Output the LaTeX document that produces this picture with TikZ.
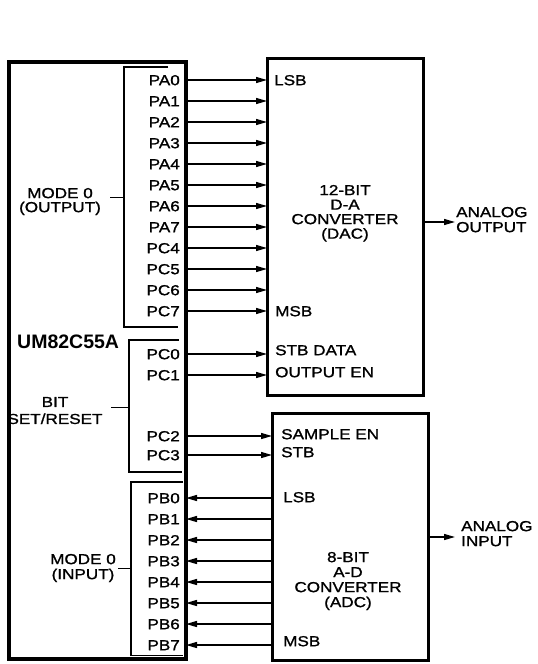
\documentclass[tikz,border=0pt]{standalone}
\usepackage{fontspec}
\setmainfont{Liberation Sans}[FakeStretch=1.18, FakeBold=1.2]
\newfontfamily\chipfont{Liberation Sans}
\usetikzlibrary{arrows.meta}
\begin{document}
\begin{tikzpicture}[x=1pt,y=-1pt,
  box/.style={draw, rectangle, line width=3.5pt, inner sep=0pt, outer sep=0pt},
  pinl/.style={font=\fontsize{14.5}{14.5}\selectfont, inner sep=0pt, text height=10.4pt, text depth=0pt, anchor=east},
  pinr/.style={pinl, anchor=west},
  sig/.style={line width=1.4pt, -{Triangle[length=11pt,width=6pt]}},
  brk/.style={line width=1.3pt},
  lead/.style={line width=0.9pt},
  lbl/.style={inner sep=0pt, anchor=north, align=center},
]
\useasboundingbox (0,0) rectangle (538,664);

% boxes
\node[box, minimum width=177pt, minimum height=597pt] (ic) at (97.5,360.5) {};
\node[box, line width=3pt, minimum width=156pt, minimum height=337pt] (dac) at (345,226.5) {};
\node[box, line width=3pt, minimum width=156pt, minimum height=247pt] (adc) at (350,536.5) {};

% port brackets
\draw[brk] (168,67) -- (124,67) -- (124,327) -- (178,327);
\draw[brk] (179,340) -- (129,340) -- (129,472) -- (182,472);
\draw[brk] (183,482) -- (131,482) -- (131,655.5) -- (183,655.5);

% chip name
\node[font=\chipfont\bfseries\fontsize{19.5}{19.5}\selectfont, inner sep=0pt, text height=14pt, text depth=0pt, anchor=west] (chip) at (17,341) {UM82C55A};

% output pins to DAC
\foreach \n/\y in {PA0/80,PA1/101,PA2/122,PA3/143,PA4/164,PA5/185,PA6/206,PA7/227,PC4/248,PC5/269,PC6/290,PC7/311,PC0/354,PC1/375}{
  \node[pinl] (\n) at (180,\y) {\n};
  \draw[sig] (ic.east |- \n.east) -- (dac.west |- \n.east);
}
% control pins to ADC
\foreach \n/\y in {PC2/436,PC3/455}{
  \node[pinl] (\n) at (180,\y) {\n};
  \draw[sig] (ic.east |- \n.east) -- (adc.west |- \n.east);
}
% input pins from ADC
\foreach \n/\y in {PB0/498,PB1/519,PB2/540,PB3/561,PB4/582,PB5/603,PB6/624,PB7/645}{
  \node[pinl] (\n) at (180,\y) {\n};
  \draw[sig] (adc.west |- \n.east) -- (ic.east |- \n.east);
}

% DAC labels
\node[pinr] (dlsb) at (274,80) {LSB};
\node[pinr] (dmsb) at (275,311) {MSB};
\node[pinr] (dstb) at (275,350) {STB DATA};
\node[pinr] (doen) at (275,372) {OUTPUT EN};
\node[lbl, font=\fontsize{14.5}{14.5}\selectfont] (dact) at (345,184.8) {12-BIT\\D-A\\CONVERTER\\(DAC)};

% ADC labels
\node[pinr] (asen) at (281,434) {SAMPLE EN};
\node[pinr] (astb) at (281,452) {STB};
\node[pinr] (alsb) at (283,497) {LSB};
\node[pinr] (amsb) at (283,641) {MSB};
\node[lbl, font=\fontsize{14.5}{15}\selectfont] (adct) at (348,551.8) {8-BIT\\A-D\\CONVERTER\\(ADC)};

% analog signals
\node[inner sep=0pt, anchor=north west, align=left, font=\fontsize{14.5}{15}\selectfont] (aout) at (456,206.8) {ANALOG\\OUTPUT};
\coordinate (aoa) at (455,222);
\draw[sig] (dac.east |- aoa) -- (aoa);
\node[inner sep=0pt, anchor=north west, align=left, font=\fontsize{14.5}{15}\selectfont] (ain) at (461,520.8) {ANALOG\\INPUT};
\coordinate (aia) at (455,537);
\draw[sig] (adc.east |- aia) -- (aia);

% mode labels
\node[lbl, font=\fontsize{14.5}{14}\selectfont] (mout) at (60,187.8) {MODE 0\\(OUTPUT)};
\coordinate (mo1) at (110,197); \coordinate (mo2) at (124,197);
\draw[lead] (mo1) -- (mo2);
\node[lbl, font=\fontsize{14.5}{17}\selectfont] (bsr) at (55,396.8) {BIT\\SET/RESET};
\coordinate (bs1) at (111,407); \coordinate (bs2) at (129,407);
\draw[lead] (bs1) -- (bs2);
\node[lbl, font=\fontsize{14.5}{15}\selectfont] (min) at (83,553.8) {MODE 0\\(INPUT)};
\coordinate (mi1) at (118,568); \coordinate (mi2) at (131,568);
\draw[lead] (mi1) -- (mi2);
\end{tikzpicture}
\end{document}
